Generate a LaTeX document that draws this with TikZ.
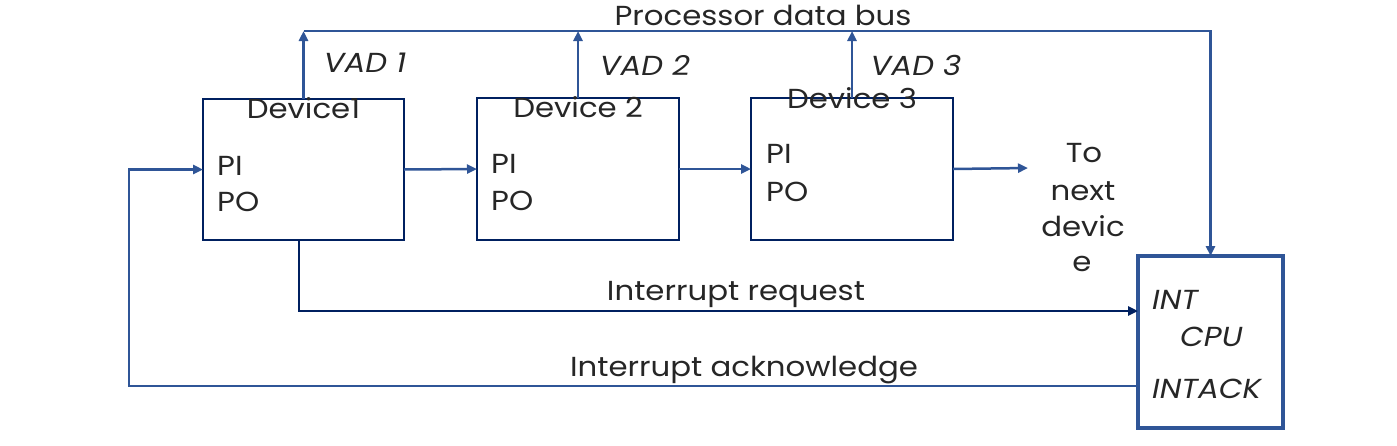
\documentclass[tikz,border=0pt]{standalone}
\usepackage{fontspec}
\setmainfont{Poppins}[FakeStretch=1.12]
\usetikzlibrary{arrows.meta}
\definecolor{navy}{HTML}{002060}
\definecolor{lblue}{HTML}{2F5597}
\begin{document}
\begin{tikzpicture}[x=1pt,y=-1pt,
  dev/.style={draw=navy,line width=2pt,rectangle,inner sep=0pt,outer sep=0pt},
  cpubox/.style={draw=lblue,line width=4pt,rectangle,inner sep=0pt,outer sep=0pt},
  conn/.style={draw=lblue,line width=2.5pt,-{Triangle[length=10pt,width=9pt]}},
  lbl/.style={font=\fontsize{27.5}{30}\selectfont,inner sep=0pt,anchor=base,text=black!85},
  lblw/.style={lbl,anchor=base west},
  ital/.style={font=\fontsize{27.5}{30}\selectfont\itshape}]
\useasboundingbox (0,0) rectangle (1397,445);
% boxes
\node[dev,minimum width=201pt,minimum height=141pt] (d1) at (303.5,169.5) {};
\node[dev,minimum width=202pt,minimum height=142pt] (d2) at (578,169) {};
\node[dev,minimum width=202pt,minimum height=142pt] (d3) at (852,169) {};
\node[cpubox,minimum width=145pt,minimum height=172pt] (cpu) at (1210.5,342) {};
% coordinates
\coordinate (b1) at (303.5,31);
\coordinate (b2) at (578,31);
\coordinate (b3) at (852,31);
\coordinate (bR) at (1210.5,31);
\coordinate (nx) at (1028,168);
\coordinate (ir) at (299,240);
\coordinate (int) at (1138,311);
\coordinate (ack) at (1138,386);
\coordinate (lc) at (129,386);
% connectors
\draw[conn] (b1) -- (bR) -- (cpu.north);
\draw[conn] (d1.north) -- (b1);
\draw[conn] (d2.north) -- (b2);
\draw[conn] (d3.north) -- (b3);
\draw[conn] (d1.east) -- (d2.west);
\draw[conn] (d2.east) -- (d3.west);
\draw[conn] (d3.east) -- (nx);
\draw[conn,draw=navy] (ir) |- (int);
\draw[conn] (ack) -- (lc) |- (d1.west);
% labels
\node[lbl] (tbus) at (763,25) {Processor data bus};
\node[lbl,ital] (v1) at (365,72) {VAD 1};
\node[lbl,ital] (v2) at (645,75) {VAD 2};
\node[lbl,ital] (v3) at (916,75) {VAD 3};
\node[lbl] (t1) at (303.5,118) {Device1};
\node[lbl] (t2) at (578,117) {Device 2};
\node[lbl] (t3) at (852,108) {Device 3};
\node[lblw] (pi1) at (217,175) {PI};
\node[lblw] (po1) at (217,211) {PO};
\node[lblw] (pi2) at (491,173) {PI};
\node[lblw] (po2) at (491,210) {PO};
\node[lblw] (pi3) at (766,163) {PI};
\node[lblw] (po3) at (766,201) {PO};
\node[lbl] (n1) at (1084,162) {To};
\node[lbl] (n2) at (1083,200) {next};
\node[lbl] (n3) at (1083,236) {devic};
\node[lbl] (n4) at (1082,271) {e};
\node[lbl] (tir) at (736,300) {Interrupt request};
\node[lbl] (tack) at (744,376) {Interrupt acknowledge};
\node[lblw,ital] (cint) at (1152,309) {INT};
\node[lblw,ital] (ccpu) at (1180,346) {CPU};
\node[lblw,ital] (cack) at (1152,398) {INTACK};
\end{tikzpicture}
\end{document}
